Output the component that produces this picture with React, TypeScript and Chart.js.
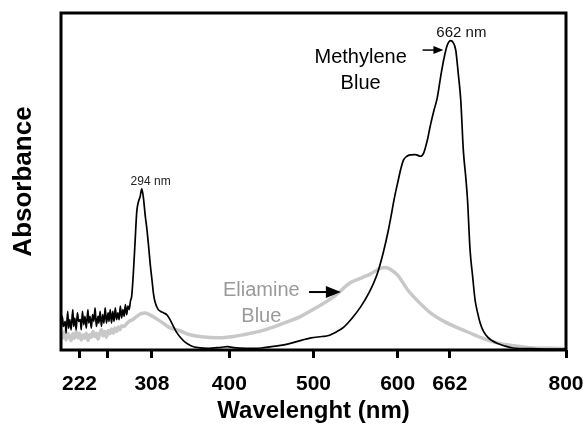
import React, { useEffect, useRef } from "react";
import { Chart, registerables } from "chart.js";

Chart.register(...registerables);

// Methylene Blue spectrum (black)
const mbWavelengths = [
  200, 201.5, 203, 205, 206, 208, 209, 210.5, 212, 214, 215, 216.5, 218, 219.5, 221, 223, 224, 225.5, 227, 228.5,
  230, 232, 233, 234.5, 236, 237.5, 239, 240.5, 242, 244, 245, 246.5, 248, 249.5, 251, 252.5, 254, 256, 257, 258.5,
  260, 261.5, 263, 264.5, 266, 267.5, 269, 270.5, 272, 273.5, 275, 276.5, 278, 279.5, 281, 282.5,
  284, 286, 288, 290, 292, 294, 296, 298, 300, 302, 304, 306, 308, 310, 312, 315,
  318, 322, 326, 330, 334, 338, 342, 347, 355, 363, 375, 390, 398, 405, 420, 438, 450, 465, 480, 497,
  510, 518, 528, 536, 546, 556, 566, 576, 583, 589, 592, 596, 600, 604, 607, 611, 615, 621, 627, 631,
  635, 639, 643, 647, 651, 655, 659, 663, 666, 669, 672, 675, 678, 681, 683, 686, 689, 692, 695, 698,
  702, 707, 712, 718, 727, 737, 760, 780, 800,
];
const mbAbsorbance = [
  0.055, 0.1, 0.07, 0.085, 0.05, 0.115, 0.065, 0.09, 0.06, 0.12, 0.07, 0.095, 0.06, 0.11, 0.085, 0.09, 0.06, 0.115, 0.075, 0.1,
  0.065, 0.12, 0.08, 0.1, 0.065, 0.105, 0.085, 0.125, 0.07, 0.1, 0.08, 0.115, 0.07, 0.105, 0.08, 0.125, 0.08, 0.11, 0.085, 0.12,
  0.08, 0.115, 0.085, 0.125, 0.09, 0.11, 0.09, 0.13, 0.095, 0.12, 0.1, 0.135, 0.105, 0.13, 0.12, 0.145,
  0.16, 0.23, 0.32, 0.41, 0.44, 0.455, 0.478, 0.45, 0.4, 0.36, 0.31, 0.255, 0.21, 0.165, 0.14, 0.122,
  0.115, 0.11, 0.104, 0.088, 0.068, 0.05, 0.037, 0.024, 0.012, 0.007, 0.005, 0.008, 0.01, 0.007, 0.005, 0.006, 0.01, 0.015, 0.025, 0.036,
  0.04, 0.043, 0.055, 0.068, 0.095, 0.128, 0.17, 0.228, 0.29, 0.356, 0.395, 0.45, 0.496, 0.54, 0.564, 0.575, 0.579, 0.58, 0.575, 0.585,
  0.62, 0.668, 0.71, 0.748, 0.81, 0.865, 0.905, 0.918, 0.912, 0.89, 0.82, 0.74, 0.593, 0.51, 0.445, 0.297, 0.22, 0.148, 0.11, 0.08,
  0.055, 0.038, 0.028, 0.02, 0.012, 0.006, 0.004, 0.003, 0.003,
];

// Eliamine Blue spectrum (grey)
const ebWavelengths = [
  200, 202, 204, 206, 208, 210, 212, 214, 216, 218, 220, 222, 224, 226, 228, 230, 232, 234, 236, 238,
  240, 242, 244, 246, 248, 250, 252, 254, 256, 258, 260, 262, 264, 266, 268, 270, 272, 275, 278, 281,
  285, 290, 295, 300, 305, 312, 320, 328, 340, 352, 367, 387, 405, 426, 445, 465, 485, 505, 525, 544,
  558, 568, 580, 586, 592, 600, 612, 624, 639, 655, 678, 700, 718, 740, 757, 780, 800,
];
const ebAbsorbance = [
  0.05, 0.035, 0.055, 0.03, 0.05, 0.04, 0.028, 0.048, 0.035, 0.055, 0.036, 0.05, 0.03, 0.045, 0.035, 0.05, 0.028, 0.045, 0.038, 0.055,
  0.04, 0.05, 0.032, 0.048, 0.06, 0.042, 0.055, 0.038, 0.058, 0.048, 0.062, 0.05, 0.065, 0.055, 0.068, 0.06, 0.072, 0.07, 0.078, 0.085,
  0.09, 0.1, 0.108, 0.11, 0.105, 0.095, 0.082, 0.068, 0.058, 0.046, 0.039, 0.036, 0.04, 0.05, 0.062, 0.08, 0.1, 0.128, 0.16, 0.2,
  0.215, 0.226, 0.243, 0.245, 0.238, 0.222, 0.178, 0.145, 0.11, 0.085, 0.059, 0.036, 0.021, 0.012, 0.007, 0.005, 0.004,
];

const xTickValues = [222, 255, 308, 400, 500, 600, 662, 800];
const xTickLabels = ["222", "", "308", "400", "500", "600", "662", "800"];

const FONT = "'Liberation Sans', Arial, Helvetica, sans-serif";

type Note = { text: string; x: number; y: number; size: number; color: string; weight?: string };
const notes: Note[] = [
  { text: "294 nm", x: 306.5, y: 0.5, size: 12, color: "#222" },
  { text: "662 nm", x: 675.7, y: 0.941, size: 15, color: "#111" },
  { text: "Methylene", x: 556, y: 0.869, size: 20, color: "#000" },
  { text: "Blue", x: 556, y: 0.792, size: 20, color: "#000" },
  { text: "Eliamine", x: 438, y: 0.178, size: 20, color: "#9a9a9a" },
  { text: "Blue", x: 438, y: 0.098, size: 20, color: "#9a9a9a" },
];
type Arrow = { x1: number; x2: number; y: number; head: number; half: number; width: number };
const arrows: Arrow[] = [
  { x1: 629.6, x2: 654.4, y: 0.89, head: 10, half: 4, width: 1.5 },
  { x1: 494.7, x2: 532.5, y: 0.172, head: 15, half: 6, width: 2 },
];

const decorPlugin = {
  id: "decor",
  afterDatasetsDraw(chart: any) {
    const { ctx, chartArea, scales } = chart;
    const xs = scales.x;
    const ys = scales.y;
    ctx.save();
    ctx.lineWidth = 3;
    ctx.strokeStyle = "#000";
    ctx.strokeRect(chartArea.left, chartArea.top, chartArea.right - chartArea.left, chartArea.bottom - chartArea.top);

    ctx.textAlign = "center";
    ctx.textBaseline = "middle";
    for (const n of notes) {
      ctx.font = `${n.weight || "normal"} ${n.size}px ${FONT}`;
      ctx.fillStyle = n.color;
      ctx.fillText(n.text, xs.getPixelForValue(n.x), ys.getPixelForValue(n.y));
    }
    for (const a of arrows) {
      const px1 = xs.getPixelForValue(a.x1);
      const px2 = xs.getPixelForValue(a.x2);
      const py = ys.getPixelForValue(a.y);
      ctx.strokeStyle = "#000";
      ctx.fillStyle = "#000";
      ctx.lineWidth = a.width;
      ctx.beginPath();
      ctx.moveTo(px1, py);
      ctx.lineTo(px2 - a.head + 1, py);
      ctx.stroke();
      ctx.beginPath();
      ctx.moveTo(px2, py);
      ctx.lineTo(px2 - a.head, py - a.half);
      ctx.lineTo(px2 - a.head, py + a.half);
      ctx.closePath();
      ctx.fill();
    }
    ctx.restore();
  },
};

export default function App() {
  const ref = useRef<HTMLCanvasElement | null>(null);
  useEffect(() => {
    if (!ref.current) return;
    const chart = new Chart(ref.current, {
      type: "line",
      data: {
        datasets: [
          {
            label: "Methylene Blue",
            data: mbWavelengths.map((w, i) => ({ x: w, y: mbAbsorbance[i] })),
            borderColor: "#000",
            borderWidth: 1.7,
            pointRadius: 0,
            cubicInterpolationMode: "monotone",
            order: 0,
          },
          {
            label: "Eliamine Blue",
            data: ebWavelengths.map((w, i) => ({ x: w, y: ebAbsorbance[i] })),
            borderColor: "#c8c8c8",
            borderWidth: 3.5,
            pointRadius: 0,
            cubicInterpolationMode: "monotone",
            order: 1,
          },
        ],
      },
      options: {
        animation: false,
        responsive: true,
        maintainAspectRatio: false,
        layout: { padding: { top: 13, right: 21, left: 0, bottom: 0 } },
        plugins: { legend: { display: false }, tooltip: { enabled: false } },
        scales: {
          x: {
            type: "linear",
            min: 200,
            max: 800,
            afterBuildTicks: (s: any) => {
              s.ticks = xTickValues.map((v) => ({ value: v }));
            },
            afterFit: (s: any) => {
              s.height = 78;
              s.paddingLeft = 0;
              s.paddingRight = 0;
            },
            ticks: {
              autoSkip: false,
              maxRotation: 0,
              padding: 14,
              color: "#000",
              font: { family: FONT, size: 21, weight: "bold" },
              callback: (_v: any, i: number) => xTickLabels[i],
            },
            grid: { drawOnChartArea: false, drawTicks: true, tickLength: 8, tickWidth: 3, tickColor: "#000" },
            border: { display: false },
            title: {
              display: true,
              text: "Wavelenght (nm)",
              color: "#000",
              font: { family: FONT, size: 24, weight: "bold" },
              padding: { top: 0, bottom: 2 },
            },
          },
          y: {
            min: 0,
            max: 1,
            afterFit: (s: any) => {
              s.width = 61;
              s.paddingTop = 0;
              s.paddingBottom = 0;
            },
            ticks: { display: false },
            grid: { display: false },
            border: { display: false },
            title: {
              display: true,
              text: "Absorbance",
              color: "#000",
              font: { family: FONT, size: 26, weight: "bold" },
              padding: { top: 8, bottom: 0 },
            },
          },
        },
      },
      plugins: [decorPlugin],
    } as any);
    return () => chart.destroy();
  }, []);
  return (
    <div style={{ position: "absolute", left: 0, top: 0, width: 587, height: 428, background: "#fff" }}>
      <canvas ref={ref} />
    </div>
  );
}
